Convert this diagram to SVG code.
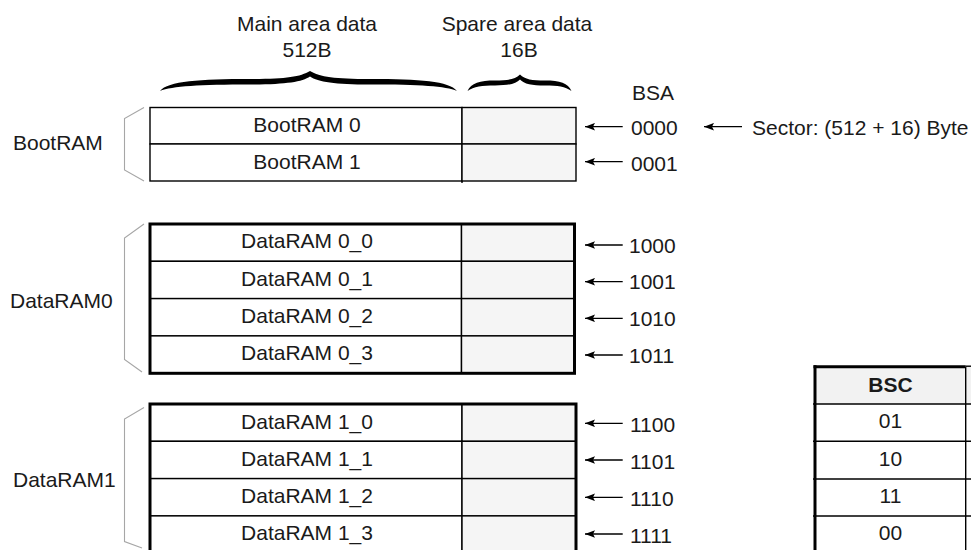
<svg xmlns="http://www.w3.org/2000/svg" width="971" height="550" viewBox="0 0 971 550">
<style>
text{font-family:"Liberation Sans",Arial,sans-serif;font-size:21px;fill:#1a1a1a}
.c{text-anchor:middle}
.b{font-weight:bold}
.cell{fill:#ffffff;stroke:#000;stroke-width:1.4}
.spare{fill:#f5f5f5;stroke:#000;stroke-width:1.4}
.thin{stroke:#000;stroke-width:1.4;fill:none}
.thick{fill:none;stroke:#000;stroke-width:3}
.brk{fill:none;stroke:#a6a6a6;stroke-width:1.1}
.arr{stroke:#000;stroke-width:1.3;fill:none;marker-end:url(#ah)}
</style>
<defs>
<marker id="ah" viewBox="0 -4 10 8" refX="10" refY="0" markerWidth="10" markerHeight="8" markerUnits="userSpaceOnUse" orient="auto">
<path d="M0,-3.8 L10,0 L0,3.8 L2,0 Z" fill="#000"/>
</marker>
</defs>
<rect width="971" height="550" fill="#fff"/>

<g id="header-main">
<text class="c" x="307" y="31">Main area data</text>
<text class="c" x="307" y="56.5">512B</text>
<path d="M160,91 C168,81 200,79 250,79 C285,79 300,77 310,71 C320,77 335,79 370,79 C420,79 449,81 457,91 C446,86 420,84.5 370,84.5 C335,84.5 318,82 310,76.5 C302,82 285,84.5 250,84.5 C200,84.5 172,86 160,91 Z" fill="#000"/>
</g>
<g id="header-spare">
<text class="c" x="517" y="31">Spare area data</text>
<text class="c" x="519" y="56.5">16B</text>
<path d="M467.5,91 C471,83 480,80.5 495,80.5 C508,80.5 515,79.5 520,74.5 C525,79.5 532,80.5 545,80.5 C560,80.5 568,83 571.5,91 C565,86.5 558,85.5 545,85.5 C532,85.5 524,84 520,79.5 C516,84 508,85.5 495,85.5 C482,85.5 474,86.5 467.5,91 Z" fill="#000"/>
</g>
<g id="bsa-label"><text x="632" y="100">BSA</text></g>

<g id="bootram">
<text x="13" y="150">BootRAM</text>
<path class="brk" d="M144,107.5 L124.5,118.5 L124.5,170 L144,181"/>
<rect class="cell" x="150" y="107.5" width="312" height="36.5"/>
<rect class="spare" x="462" y="107.5" width="114" height="36.5"/>
<rect class="cell" x="150" y="144" width="312" height="37"/>
<rect class="spare" x="462" y="144" width="114" height="37"/>
<line class="thin" x1="462" y1="181" x2="462" y2="183"/>
<text class="c" x="307" y="132">BootRAM 0</text>
<text class="c" x="307" y="168.5">BootRAM 1</text>
<text x="631" y="135">0000</text>
<text x="631" y="170.5">0001</text>
</g>

<g id="sector-note"><text x="752" y="135">Sector: (512 + 16) Byte</text></g>

<g id="dataram0">
<text x="10" y="308.3">DataRAM0</text>
<path class="brk" d="M144,224 L124.5,238 L124.5,359.5 L142,372"/>
<rect class="cell" x="150" y="224" width="311.5" height="37.3"/>
<rect class="spare" x="461.5" y="224" width="113" height="37.3"/>
<rect class="cell" x="150" y="261.3" width="311.5" height="37.3"/>
<rect class="spare" x="461.5" y="261.3" width="113" height="37.3"/>
<rect class="cell" x="150" y="298.6" width="311.5" height="37.3"/>
<rect class="spare" x="461.5" y="298.6" width="113" height="37.3"/>
<rect class="cell" x="150" y="335.9" width="311.5" height="37.4"/>
<rect class="spare" x="461.5" y="335.9" width="113" height="37.4"/>
<rect class="thick" x="150" y="224" width="424.5" height="149.3"/>
<text class="c" x="307" y="248.3">DataRAM 0_0</text>
<text class="c" x="307" y="285.5">DataRAM 0_1</text>
<text class="c" x="307" y="322.5">DataRAM 0_2</text>
<text class="c" x="307" y="359.8">DataRAM 0_3</text>
<text x="629" y="252.5">1000</text>
<text x="629" y="289.2">1001</text>
<text x="629" y="325.8">1010</text>
<text x="629" y="362.5">1011</text>
</g>

<g id="dataram1">
<text x="13" y="486.7">DataRAM1</text>
<path class="brk" d="M144,407.5 L124.5,419 L124.5,541.5 L142,548"/>
<rect class="cell" x="150" y="404" width="312" height="37.3"/>
<rect class="spare" x="462" y="404" width="114" height="37.3"/>
<rect class="cell" x="150" y="441.3" width="312" height="37.3"/>
<rect class="spare" x="462" y="441.3" width="114" height="37.3"/>
<rect class="cell" x="150" y="478.6" width="312" height="37.3"/>
<rect class="spare" x="462" y="478.6" width="114" height="37.3"/>
<rect class="cell" x="150" y="515.9" width="312" height="37.4"/>
<rect class="spare" x="462" y="515.9" width="114" height="37.4"/>
<rect class="thick" x="150" y="404" width="426" height="149.3"/>
<text class="c" x="307" y="428.5">DataRAM 1_0</text>
<text class="c" x="307" y="465.8">DataRAM 1_1</text>
<text class="c" x="307" y="503">DataRAM 1_2</text>
<text class="c" x="307" y="540.3">DataRAM 1_3</text>
<text x="630" y="432">1100</text>
<text x="630" y="468.7">1101</text>
<text x="630" y="506">1110</text>
<text x="630" y="542.7">1111</text>
</g>

<g id="bsc-table">
<rect x="815" y="366.7" width="170" height="37.3" fill="#f2f2f2"/>
<rect x="815" y="404" width="170" height="150" fill="#fff"/>
<line class="thin" x1="813" y1="404" x2="971" y2="404"/>
<line class="thin" x1="813" y1="441.3" x2="971" y2="441.3"/>
<line class="thin" x1="813" y1="479" x2="971" y2="479"/>
<line class="thin" x1="813" y1="516" x2="971" y2="516"/>
<line class="thin" x1="965.7" y1="366.7" x2="965.7" y2="550"/>
<line stroke="#000" stroke-width="3" x1="813.5" y1="366.7" x2="965.7" y2="366.7"/>
<line stroke="#000" stroke-width="1.4" x1="965.7" y1="366.2" x2="971" y2="366.2"/>
<line stroke="#000" stroke-width="3" x1="815" y1="365.2" x2="815" y2="550"/>
<text class="c b" x="890.5" y="391.7">BSC</text>
<text class="c" x="890.5" y="428.3">01</text>
<text class="c" x="890.5" y="466.3">10</text>
<text class="c" x="890.5" y="503.3">11</text>
<text class="c" x="890.5" y="540.3">00</text>
</g>

<g id="connectors">
<line class="arr" x1="622.7" y1="126.7" x2="585" y2="126.7"/>
<line class="arr" x1="622.7" y1="161.7" x2="585" y2="161.7"/>
<line class="arr" x1="742" y1="126.7" x2="704" y2="126.7"/>
<line class="arr" x1="622.7" y1="245" x2="585" y2="245"/>
<line class="arr" x1="622.7" y1="281.7" x2="585" y2="281.7"/>
<line class="arr" x1="622.7" y1="318.3" x2="585" y2="318.3"/>
<line class="arr" x1="622.7" y1="355" x2="585" y2="355"/>
<line class="arr" x1="622.7" y1="423.3" x2="585" y2="423.3"/>
<line class="arr" x1="622.7" y1="460" x2="585" y2="460"/>
<line class="arr" x1="622.7" y1="497.3" x2="585" y2="497.3"/>
<line class="arr" x1="622.7" y1="534" x2="585" y2="534"/>
</g>
</svg>
